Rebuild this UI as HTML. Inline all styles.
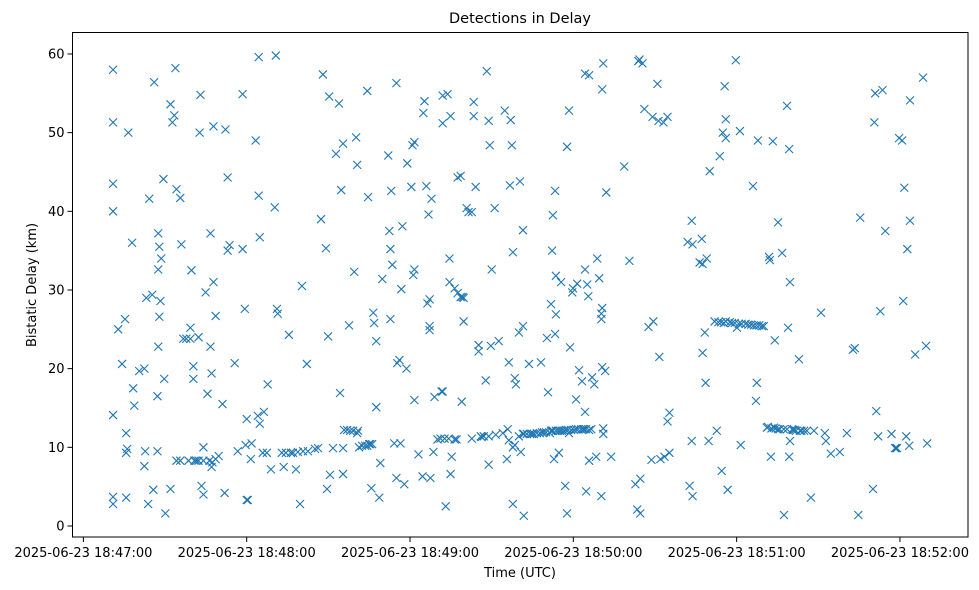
<!DOCTYPE html>
<html><head><meta charset="utf-8"><style>
html,body{margin:0;padding:0;background:#fff;}
svg{display:block;font-family:"DejaVu Sans","Liberation Sans",sans-serif;}
</style></head><body>
<svg id="chart" width="979" height="590" viewBox="0 0 979 590" xmlns="http://www.w3.org/2000/svg">
<text x="520" y="23" text-anchor="middle" font-size="14.5" fill="#000">Detections in Delay</text>
<text x="520" y="577" text-anchor="middle" font-size="13" fill="#000">Time (UTC)</text>
<text x="0" y="0" transform="translate(36,285) rotate(-90)" text-anchor="middle" font-size="13" fill="#000">Bistatic Delay (km)</text>
<g id="marks"></g>
<g id="axes"></g>
</svg>
<script>
// clock offset: readings below are seconds relative to 18:47:02.8
const timeOffset = 2.8;
const tickSeconds = [0, 60, 120, 180, 240, 300];
const tickLabels = ["2025-06-23 18:47:00","2025-06-23 18:48:00","2025-06-23 18:49:00","2025-06-23 18:50:00","2025-06-23 18:51:00","2025-06-23 18:52:00"];
const yTicks = [0, 10, 20, 30, 40, 50, 60];
const detections = [
[8.1,43.5],[8.1,40],[8.1,51.3],[8.1,58],[8.1,14.1],[8.1,3.7],[8.1,2.8],
[10,25],[11.4,20.6],[12.5,26.3],[12.9,11.8],[13.3,9.8],[12.9,9.3],[12.9,3.6],[13.7,50],[15.1,36],[15.5,17.5],[15.9,15.3],[17.7,19.7],[19.6,20],[19.6,7.6],[19.9,9.5],[20.3,29],[21,2.8],[21.4,41.6],[22.5,29.4],[22.9,4.6],[23.2,56.4],[24.4,16.5],[24.4,9.5],[24.7,37.2],[25.1,35.5],[25.1,26.6],[24.7,22.8],[24.7,32.6],[25.5,28.6],[25.8,34],[26.6,44.1],[26.9,18.7],[27.3,1.6],[29.2,4.7],[29.2,53.6],[29.9,51.3],[30.6,52.2],[31,58.2],[31.4,42.8],[31.4,8.3],[32.8,41.7],[33.2,35.8],[32.8,8.3],[33.9,23.8],[35,23.8],[36.5,23.8],[35.8,8.3],[36.5,25.2],[36.9,32.5],[37.6,18.7],[37.6,20.3],[38,8.3],[38.7,8.3],[39.5,24],[39.5,8.3],[39.9,50],[40.2,54.8],[40.6,5.1],[41.3,4],[41.3,10],[41.3,8.3],[42.1,29.7],[42.8,16.8],[43.5,8.3],[43.9,37.2],[43.9,22.8],[44.3,19.4],[44.3,7.5],[44.6,8.1],[45,50.8],[45,31],[45.8,8.5],[45.8,26.7],[46.9,8.9],[48.3,15.5],[49.1,4.2],[49.4,50.4],[50.2,44.3],[50.2,35],[50.9,35.7],[52.8,20.7],[53.9,9.5],[55.7,35.2],[55.7,54.9],[56.5,27.6],[56.8,10.3],[57.2,13.6],[57.2,3.3],[57.6,3.3],[58.7,8.5],[59,10.5],[60.5,49],[61.3,14],[61.6,59.6],[61.6,42],[62,36.7],[62,13],[63.1,9.3],[63.5,14.5],[64.6,9.3],[64.9,18],[66.1,7.2],[67.5,40.5],[67.9,59.8],[68.3,27.6],[68.6,27],[70.1,9.3],[70.8,7.5],[71.6,9.3],[72.7,24.3],[73.4,9.3],[74.2,9.3],[75.3,7.2],[76.8,2.8],[77.5,30.5],[76,9.4],[77.9,9.5],[79.3,20.6],[79.7,9.5],[82.3,9.8],[83.4,9.9],[84.5,39],[85.2,57.4],[86.3,35.3],[86.7,4.7],[87.1,24.1],[87.5,54.6],[87.8,6.5],[90,47.3],[88.9,9.9],[91.1,53.7],[91.5,16.9],[91.9,42.7],[92.6,9.9],[92.6,48.6],[92.6,6.6],[93,12.2],[94.1,12.2],[94.8,25.5],[95.2,12.1],[96.3,12.1],[96.7,32.3],[97.4,49.4],[97.8,45.9],[97.8,11.8],[98.1,12.1],[98.5,10],[99.6,10.2],[100.7,10.2],[101.5,10.2],[101.5,55.3],[101.8,41.8],[102.2,10.4],[102.6,10.4],[103,4.8],[103.3,10.4],[103.7,27.1],[104,25.8],[104.8,15.1],[104.8,23.5],[105.9,3.6],[106.3,8],[107,31.4],[109.2,47.1],[109.6,37.5],[110,26.3],[110,35.2],[110.3,42.6],[110.7,33.2],[111.4,10.5],[112.2,6.1],[112.2,56.3],[113.3,21.1],[112.5,20.7],[114,30.1],[113.7,10.5],[114.4,38.1],[115.1,5.3],[115.9,20],[116.2,46.1],[117.7,43.1],[118.1,48.4],[118.4,31.9],[118.8,32.6],[118.8,48.8],[118.8,16],[120.3,9.1],[121.8,6.3],[122.1,52.5],[122.5,54],[123.2,43.2],[124,39.6],[123.6,28.3],[124.4,25.4],[124.4,24.9],[124.4,28.8],[124.7,6.1],[125.1,41.6],[125.8,9.4],[126.2,16.4],[127.3,11],[128.4,11.1],[129.2,54.7],[128.8,17.1],[129.2,17.1],[129.2,51.2],[129.9,11.1],[131,54.9],[130.3,2.5],[131.4,11.1],[131.7,31],[131.7,34],[132.1,52.1],[132.1,6.6],[132.5,8.8],[133.6,11],[133.6,30.2],[134.3,11],[134.7,44.3],[134.7,29.6],[135.8,29.1],[135.8,44.5],[136.2,15.8],[136.5,29.1],[136.9,29],[136.9,26],[138,40.4],[138.7,39.9],[139.9,11.1],[139.9,39.9],[140.6,52.1],[140.6,53.9],[141.3,43.1],[142.4,22.2],[142.4,23],[143.2,11.4],[143.5,11.3],[144.3,11.4],[145,18.5],[145.4,57.8],[146.1,11.4],[146.1,7.8],[146.1,51.5],[146.5,48.4],[146.9,22.9],[147.2,32.6],[148.3,40.4],[148.7,11.6],[149.8,23.5],[151.3,11.8],[152,52.8],[152.8,8.5],[153.1,12.3],[153.5,10.9],[153.5,20.8],[153.9,43.3],[154.2,51.6],[154.6,48.4],[155,34.8],[155,2.8],[155,10],[155.7,10.3],[155.7,18.8],[156.1,18],[157.2,11.4],[157.2,24.6],[157.6,43.8],[157.9,9.4],[158.7,25.4],[159,1.3],[158.7,11.7],[158.7,37.6],[159,11.7],[160.1,11.7],[160.9,20.6],[161.3,11.7],[162,11.7],[162.7,11.7],[163.8,11.8],[164.9,11.8],[165.3,20.8],[165.7,11.9],[166.4,11.9],[167.2,11.9],[167.5,23.9],[167.9,17],[168.6,11.8],[169,12.1],[169.4,12.1],[169,28.2],[169.4,35],[169.7,12.1],[169.7,39.5],[170.1,8.5],[170.5,42.6],[170.5,24.4],[170.8,26.9],[170.8,12.1],[170.8,31.8],[171.6,12.1],[171.9,9.3],[172.3,12.1],[172.7,31],[173,12.1],[173.8,12.1],[174.2,5.1],[174.5,12.2],[174.9,48.2],[174.9,1.6],[175.3,12.2],[175.6,11.8],[175.6,52.8],[176,22.7],[176.4,12.2],[176.8,29.7],[177.1,30.2],[177.5,12.2],[178.2,12.3],[178.2,16.1],[179,12.3],[178.6,30.8],[179.3,19.8],[180.1,12.3],[180.4,18.4],[180.8,12.3],[181.2,12.3],[181.5,57.5],[181.5,32.6],[181.5,14.5],[181.9,12.3],[181.9,4.4],[182.3,30.7],[182.7,29.2],[183,12.2],[183,8.3],[183,57.3],[183.8,12.3],[184.1,18.9],[184.9,18],[185.6,8.8],[186,34],[186.7,31.5],[187.5,27],[187.5,3.8],[187.8,20.2],[187.8,55.5],[187.8,27.7],[187.5,26.3],[188.2,58.8],[188.2,11.7],[188.2,12.4],[188.9,19.7],[189.3,42.4],[191.1,8.8],[197.8,33.7],[195.9,45.7],[200,5.3],[200.7,2.1],[201.1,59.1],[201.5,59.3],[201.8,1.6],[201.8,6],[202.6,58.8],[203.3,53],[204.8,25.3],[205.9,8.4],[206.3,52],[206.6,26],[208.1,56.2],[208.8,21.5],[208.5,51.5],[209.2,8.5],[210.3,51.3],[210.7,8.8],[211.8,52],[211.8,13.3],[212.5,14.4],[212.5,9.3],[219.2,36.1],[220.7,38.8],[221,35.8],[219.9,5.1],[221,3.8],[220.7,10.8],[223.6,33.5],[224.4,36.5],[224.7,33.3],[224.7,22],[225.5,24.6],[225.8,18.2],[226.2,34],[226.9,10.8],[227.3,45.1],[229.9,12.1],[229.1,26],[231,47],[231.7,7],[232.1,50],[232.8,55.9],[233.2,51.7],[233.9,4.6],[233.2,26],[233.2,49.3],[234.7,25.9],
[230.5,25.9],[231.5,25.9],[232.5,25.8],[235.5,25.8],[236.5,25.8],[238,25.7],[239,25.7],[240.5,25.7],[241.5,25.6],[242.5,25.6],[243.5,25.5],[244.5,25.5],[245.5,25.5],[246.5,25.4],[247.2,25.4],
[236.9,59.2],[237.3,25.2],[238.4,50.2],[238.7,10.3],[243.2,43.2],[244.3,15.9],[244.6,18.2],[245,49],[248.3,12.5],[248.7,12.6],[249.1,34.2],[249.4,33.8],[249.8,8.8],[250.5,48.9],[250.9,12.5],[251.2,23.6],[252.4,38.6],[252.4,12.3],[253.9,34.7],[254.6,1.4],[255.7,12.3],[255.7,53.4],[256.5,47.9],[256.5,8.8],[256.8,31],[256.1,25.2],[257.6,12.3],[256.8,10.8],[257.9,12.2],[259,12.1],[260.1,21.2],[260.5,12.1],[262,12.1],[263,12.1],[264.5,3.6],[265.6,12.1],[268.2,27.1],[269.6,11.8],[270,10.8],[271.8,9.2],[275.1,9.4],[277.7,11.8],[279.9,22.4],[280.6,22.6],[281.9,1.4],[282.6,39.2],[287.3,4.7],[287.8,51.3],[288.1,55],[288.5,14.6],[289.2,11.4],[290,27.3],[290.8,55.4],[291.8,37.5],[294.1,11.7],[295.4,9.9],[295.8,9.9],[296.1,9.9],[296.9,49.3],[298,49],[298.4,28.6],[298.8,43],[299.5,11.4],[299.9,35.2],[300.6,10.2],[300.9,54.1],[300.9,38.8],[302.8,21.8],[305.7,57],[306.8,22.9],[307.2,10.5],
[250,12.4],[251.5,12.4],[253,12.3],[254.5,12.3],[258.5,12.2],[261,12.1]
];
const times = detections.map(d => d[0]);
const delays = detections.map(d => d[1]);

const NS = "http://www.w3.org/2000/svg";
const L = 72.5, R = 968, T = 32.5, B = 537;
const xMin = -4.0, xMax = 325.0;      // real seconds after 18:47:00
const yMin = -1.4, yMax = 62.73;
function sx(sec){ return L + (sec - xMin) / (xMax - xMin) * (R - L); }
function sy(km){ return B - (km - yMin) / (yMax - yMin) * (B - T); }

const marks = document.getElementById('marks');
const s = 4;
for (let i = 0; i < times.length; i++) {
  const cx = sx(times[i] + timeOffset), cy = sy(delays[i]);
  const p = document.createElementNS(NS, 'path');
  p.setAttribute('d', `M${cx-s},${cy-s}L${cx+s},${cy+s}M${cx-s},${cy+s}L${cx+s},${cy-s}`);
  p.setAttribute('stroke', '#1f77b4');
  p.setAttribute('stroke-width', '1.1');
  p.setAttribute('fill', 'none');
  
  
  marks.appendChild(p);
}

const axes = document.getElementById('axes');
const frame = document.createElementNS(NS, 'rect');
frame.setAttribute('x', L); frame.setAttribute('y', T);
frame.setAttribute('width', R - L); frame.setAttribute('height', B - T);
frame.setAttribute('fill', 'none'); frame.setAttribute('stroke', '#000'); frame.setAttribute('stroke-width', '1');


axes.appendChild(frame);

for (let i = 0; i < tickSeconds.length; i++) {
  const x = sx(tickSeconds[i]);
  const t = document.createElementNS(NS, 'line');
  t.setAttribute('x1', x); t.setAttribute('x2', x); t.setAttribute('y1', B); t.setAttribute('y2', B + 5);
  t.setAttribute('stroke', '#000');
  
  
  axes.appendChild(t);
  const lb = document.createElementNS(NS, 'text');
  lb.setAttribute('x', x); lb.setAttribute('y', B + 20);
  lb.setAttribute('text-anchor', 'middle'); lb.setAttribute('font-size', '13');
  lb.textContent = tickLabels[i];
  
  
  axes.appendChild(lb);
}
for (let i = 0; i < yTicks.length; i++) {
  const y = sy(yTicks[i]);
  const t = document.createElementNS(NS, 'line');
  t.setAttribute('x1', L - 5); t.setAttribute('x2', L); t.setAttribute('y1', y); t.setAttribute('y2', y);
  t.setAttribute('stroke', '#000');
  
  
  axes.appendChild(t);
  const lb = document.createElementNS(NS, 'text');
  lb.setAttribute('x', L - 8); lb.setAttribute('y', y + 4.5);
  lb.setAttribute('text-anchor', 'end'); lb.setAttribute('font-size', '13');
  lb.textContent = String(yTicks[i]);
  
  
  axes.appendChild(lb);
}
</script>
</body></html>
